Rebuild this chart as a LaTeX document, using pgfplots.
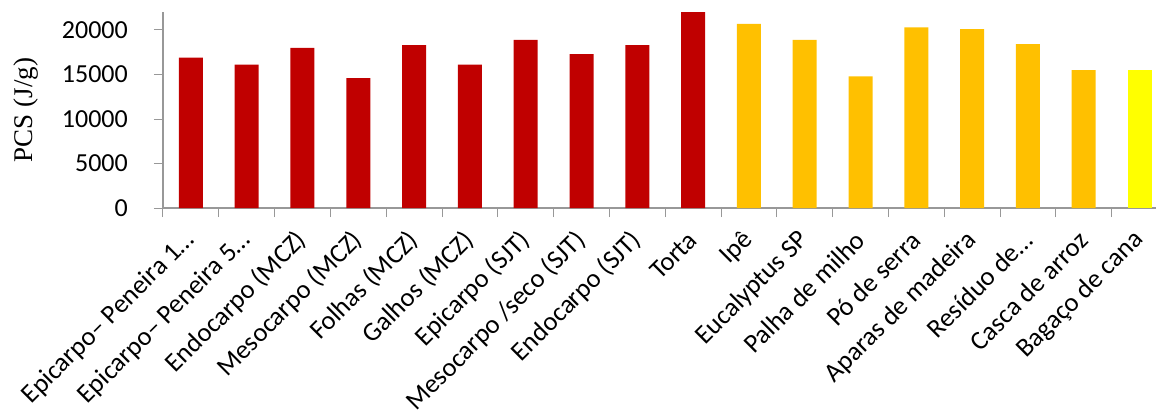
\documentclass[border=0pt]{standalone}
\usepackage{pgfplots}
\pgfplotsset{compat=1.18}
\usepackage{fontspec}
\setmainfont{Carlito}
\newfontfamily\serifLabel{Liberation Serif}

\definecolor{barred}{HTML}{C00000}
\definecolor{barorange}{HTML}{FFC000}
\definecolor{baryellow}{HTML}{FFFF00}
\definecolor{axisgray}{HTML}{989898}

\begin{document}
\begin{tikzpicture}
\begin{axis}[
  scale only axis,
  width=1004.4pt, height=195.8pt,
  xmin=-0.5, xmax=17.5, ymin=0, ymax=22000,
  axis x line=bottom, axis y line=left,
  axis line style={-, draw=axisgray, line width=1.1pt},
  tick style={draw=axisgray, line width=1pt},
  tick align=outside,
  major tick length=9pt, minor tick length=9pt,
  ytick={0,5000,10000,15000,20000},
  scaled y ticks=false,
  xtick={0,...,17},
  every major x tick/.append style={draw=none},
  minor xtick={-0.5,0.5,...,17.5},
  xticklabels={Epicarpo– Peneira 1…, Epicarpo– Peneira 5…, Endocarpo (MCZ), Mesocarpo (MCZ), Folhas (MCZ), Galhos (MCZ), Epicarpo (SJT), Mesocarpo /seco (SJT), Endocarpo (SJT), Torta, Ipê, Eucalyptus SP, Palha de milho, Pó de serra, Aparas de madeira, Resíduo de…, Casca de arroz, Bagaço de cana},
  xticklabel style={font=\fontsize{26.5}{31}\selectfont, inner sep=0pt, xshift=0pt, yshift=-19pt, rotate=45, anchor=east},
  yticklabel style={font=\fontsize{26}{31}\selectfont, inner sep=0pt, xshift=-26pt, anchor=east},
  /pgf/number format/1000 sep={},
  /pgf/number format/assume math mode=true,
  ylabel={PCS (J/g)},
  every axis y label/.style={at={(axis description cs:0,0.5)}, xshift=-137pt, rotate=90, anchor=center, font=\serifLabel\fontsize{27}{32}\selectfont},
  ybar, bar width=24pt, bar shift=0pt,
  clip=false,
]
% residues from the fruit (red)
\addplot[fill=barred, draw=none] coordinates {
  (0,16900) (1,16100) (2,18000) (3,14600) (4,18300)
  (5,16100) (6,18900) (7,17300) (8,18300) (9,22000)};
% reference biomasses (orange)
\addplot[fill=barorange, draw=none] coordinates {
  (10,20700) (11,18900) (12,14800) (13,20300) (14,20100)
  (15,18400) (16,15500)};
% sugarcane bagasse (yellow)
\addplot[fill=baryellow, draw=none] coordinates {(17,15500)};
\end{axis}
\pgfresetboundingbox
\useasboundingbox (-163pt,-204pt) rectangle (993pt,208pt);
\end{tikzpicture}
\end{document}
